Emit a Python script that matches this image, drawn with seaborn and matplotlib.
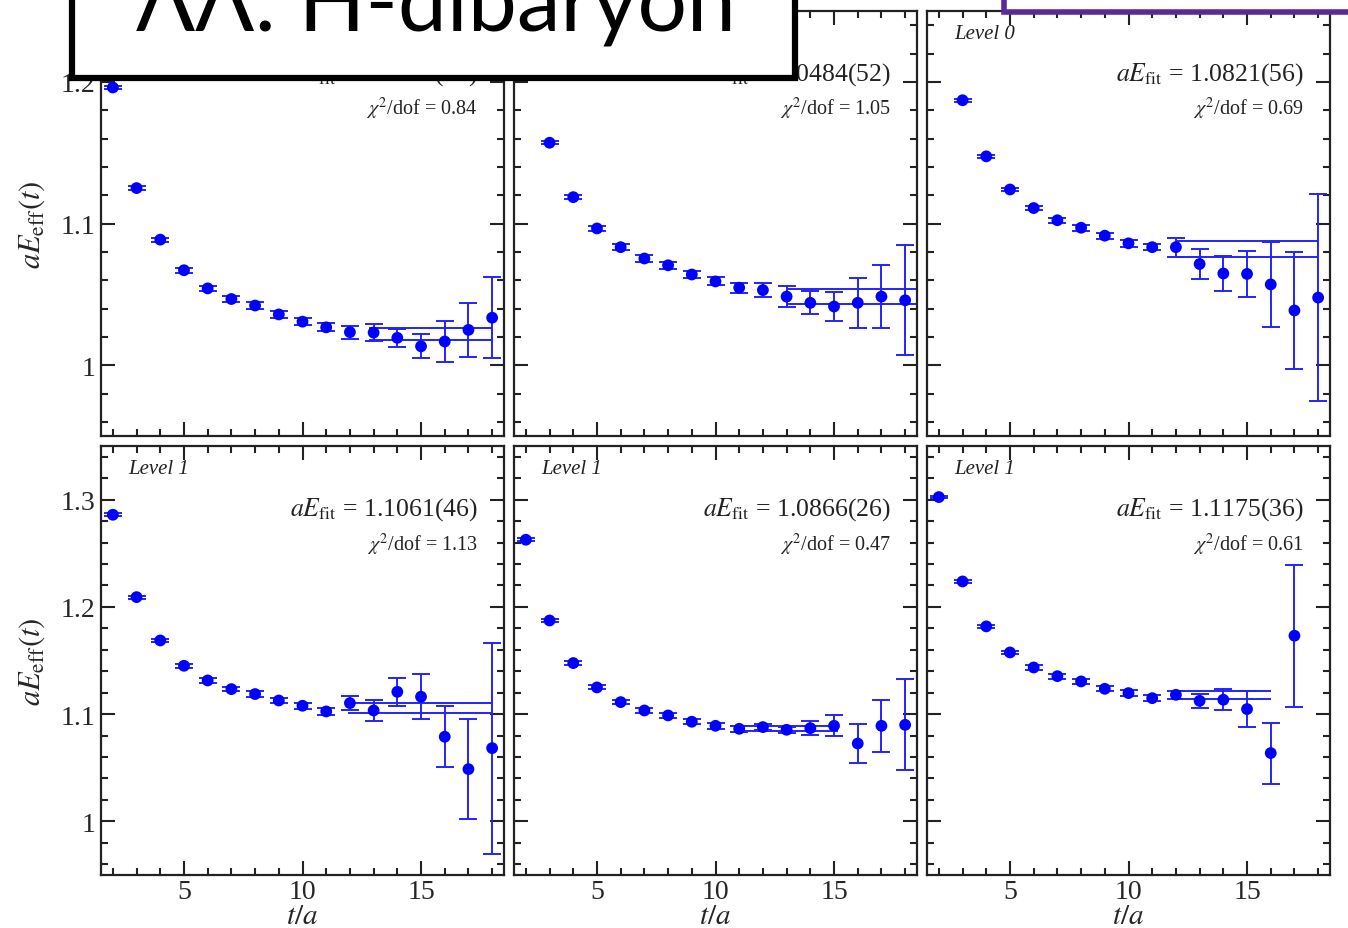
import numpy as np
import pandas as pd
import matplotlib
matplotlib.use("Agg")
import matplotlib.pyplot as plt
import seaborn as sns
from matplotlib.patches import Rectangle
from matplotlib.ticker import MultipleLocator, FuncFormatter

# ---------------- effective-mass data ----------------
# Level 0, panel A
t_0a = [2, 3, 4, 5, 6, 7, 8, 9, 10, 11, 12, 13, 14, 15, 16, 17, 18]
E_0a = [1.196, 1.125, 1.0886, 1.067, 1.0542, 1.0467, 1.0421, 1.0358, 1.0307,
        1.0267, 1.0233, 1.023, 1.0193, 1.0133, 1.0167, 1.0249, 1.0335]
err_0a = [0.001, 0.0012, 0.0014, 0.0016, 0.0019, 0.0021, 0.0023, 0.0023, 0.0026,
          0.0028, 0.0047, 0.0058, 0.0064, 0.0085, 0.0144, 0.0193, 0.0286]

# Level 0, panel B
t_0b = [3, 4, 5, 6, 7, 8, 9, 10, 11, 12, 13, 14, 15, 16, 17, 18]
E_0b = [1.157, 1.1186, 1.0965, 1.0833, 1.0753, 1.0705, 1.064, 1.0591, 1.0547,
        1.053, 1.0484, 1.044, 1.0414, 1.044, 1.0484, 1.0458]
err_0b = [0.0012, 0.0014, 0.0016, 0.0019, 0.0023, 0.0023, 0.0023, 0.0028, 0.0035,
          0.0048, 0.0072, 0.0081, 0.0102, 0.0178, 0.0224, 0.0387]

# Level 0, panel C
t_0c = [3, 4, 5, 6, 7, 8, 9, 10, 11, 12, 13, 14, 15, 16, 17, 18]
E_0c = [1.187, 1.1474, 1.124, 1.1109, 1.1023, 1.097, 1.0914, 1.086, 1.0833,
        1.0833, 1.0714, 1.0647, 1.0644, 1.057, 1.0386, 1.0477]
err_0c = [0.001, 0.0012, 0.0014, 0.0016, 0.0019, 0.0021, 0.0021, 0.0023, 0.0023,
          0.0067, 0.0109, 0.0126, 0.0165, 0.0298, 0.0413, 0.073]

# Level 1, panel A
t_1a = [2, 3, 4, 5, 6, 7, 8, 9, 10, 11, 12, 13, 14, 15, 16, 17, 18]
E_1a = [1.2859, 1.2091, 1.1687, 1.1451, 1.1314, 1.1233, 1.1187, 1.1127, 1.1078,
        1.1025, 1.1103, 1.1034, 1.1208, 1.1162, 1.0789, 1.0487, 1.0683]
err_1a = [0.0013, 0.0013, 0.0016, 0.0019, 0.0022, 0.0022, 0.0025, 0.0025, 0.0028,
          0.003, 0.0067, 0.0101, 0.0129, 0.021, 0.0284, 0.0466, 0.0984]

# Level 1, panel B
t_1b = [2, 3, 4, 5, 6, 7, 8, 9, 10, 11, 12, 13, 14, 15, 16, 17, 18]
E_1b = [1.2626, 1.1873, 1.1476, 1.1249, 1.1112, 1.1034, 1.0988, 1.0929, 1.0891,
        1.0863, 1.0879, 1.0854, 1.0869, 1.0891, 1.0726, 1.0891, 1.09]
err_1b = [0.0013, 0.0013, 0.0016, 0.0018, 0.002, 0.0022, 0.0025, 0.0025, 0.0028,
          0.003, 0.003, 0.003, 0.0065, 0.0098, 0.0183, 0.0244, 0.0423]

# Level 1, panel C
t_1c = [2, 3, 4, 5, 6, 7, 8, 9, 10, 11, 12, 13, 14, 15, 16, 17]
E_1c = [1.3024, 1.2237, 1.1818, 1.1575, 1.1435, 1.1354, 1.1305, 1.1236, 1.1196,
        1.1149, 1.118, 1.1124, 1.1134, 1.1047, 1.0637, 1.1731]
err_1c = [0.0013, 0.0013, 0.0016, 0.0018, 0.002, 0.0022, 0.0025, 0.0025, 0.0028,
          0.003, 0.004, 0.0067, 0.01, 0.0171, 0.0284, 0.0664]

# plateau fits: value, error, fit window, chi^2/dof
fit_val = [1.0222, 1.0484, 1.0821, 1.1061, 1.0866, 1.1175]
fit_err = [0.0043, 0.0052, 0.0056, 0.0046, 0.0026, 0.0036]
fit_lo = [12.8, 13.0, 12.0, 11.9, 10.8, 11.85]
fit_hi = [18.0, 19.0, 18.0, 18.0, 15.15, 16.0]
fit_labels = ["1.0222(43)", "1.0484(52)", "1.0821(56)", "1.1061(46)", "1.0866(26)", "1.1175(36)"]
chi2_labels = ["0.84", "1.05", "0.69", "1.13", "0.47", "0.61"]
level_labels = ["Level 0", "Level 0", "Level 0", "Level 1", "Level 1", "Level 1"]

series = [(t_0a, E_0a, err_0a), (t_0b, E_0b, err_0b), (t_0c, E_0c, err_0c),
          (t_1a, E_1a, err_1a), (t_1b, E_1b, err_1b), (t_1c, E_1c, err_1c)]

title_text = "ΛΛ: H-dibaryon"

# ---------------- style ----------------
sns.set_theme(style="ticks")
plt.rcParams["font.family"] = ["Liberation Serif", "DejaVu Serif"]
plt.rcParams["mathtext.fontset"] = "stix"
plt.rcParams["axes.linewidth"] = 1.5

W, H = 1348, 929
fig = plt.figure(figsize=(W / 100, H / 100), dpi=100)
fig.patch.set_facecolor("white")

pt_blue = "#0000ff"
bar_blue = "#2222ff"

col_x = [101, 514, 927]
col_w = 403
row_y = [(12, 437), (447, 876)]


def fig_rect(x0, y0, x1, y1):
    return [x0 / W, 1 - y1 / H, (x1 - x0) / W, (y1 - y0) / H]


tick_fmt = FuncFormatter(lambda v, p: f"{round(v, 3):g}")

for i, (t, E, err) in enumerate(series):
    r, c = divmod(i, 3)
    y0, y1 = row_y[r]
    ax = fig.add_axes(fig_rect(col_x[c], y0, col_x[c] + col_w, y1))
    ax.set_facecolor("white")
    df = pd.DataFrame({"t": t, "E": E, "err": err})

    ax.errorbar(df["t"], df["E"], yerr=df["err"], fmt="none", ecolor=bar_blue,
                elinewidth=1.4, capsize=6.5, capthick=1.4, zorder=2)
    sns.scatterplot(data=df, x="t", y="E", ax=ax, color=pt_blue, s=72,
                    edgecolor="none", linewidth=0, zorder=3, legend=False)
    lo, hi = fit_val[i] - fit_err[i], fit_val[i] + fit_err[i]
    ax.hlines([lo, hi], fit_lo[i], fit_hi[i], colors=bar_blue, lw=1.4, zorder=2)

    ax.set_xlim(1.5, 18.5)
    ax.set_ylim((0.95, 1.25) if r == 0 else (0.95, 1.35))
    ax.xaxis.set_major_locator(MultipleLocator(5))
    ax.xaxis.set_minor_locator(MultipleLocator(1))
    ax.yaxis.set_major_locator(MultipleLocator(0.1))
    ax.yaxis.set_minor_locator(MultipleLocator(0.02))
    ax.yaxis.set_major_formatter(tick_fmt)
    ax.tick_params(which="both", direction="in", top=True, right=True,
                   width=1.5, color="#222222", labelsize=20)
    ax.tick_params(which="major", length=10)
    ax.tick_params(which="minor", length=5)
    ax.tick_params(axis="x", pad=3)
    ax.tick_params(axis="y", pad=4)
    for sp in ax.spines.values():
        sp.set_color("#222222")
        sp.set_linewidth(1.6)

    ax.set_xlabel("")
    ax.set_ylabel("")
    if r == 1:
        ax.set_xlabel(r"$t/a$", fontsize=21, labelpad=0, va="top")
        ax.xaxis.set_label_coords(0.5, -0.066)
    else:
        ax.tick_params(axis="x", labelbottom=False)
    if c == 0:
        ax.set_ylabel(r"$aE_{\rm eff}(t)$", fontsize=22)
        ax.yaxis.set_label_coords(-0.135, 0.5)
    else:
        ax.tick_params(axis="y", labelleft=False)

    ax.text(0.068, 0.948, level_labels[i], transform=ax.transAxes, fontsize=15,
            style="italic", ha="left", va="center", color="#222222")
    ax.text(0.935, 0.853, r"$aE_{\rm fit}$ = " + fit_labels[i], transform=ax.transAxes,
            fontsize=18.5, ha="right", va="center", color="#222222")
    ax.text(0.935, 0.772, r"$\chi^2$/dof = " + chi2_labels[i], transform=ax.transAxes,
            fontsize=14.5, ha="right", va="center", color="#222222")

# ---------------- title banner ----------------
fig.add_artist(Rectangle((72 / W, 1 - 79 / H), (795 - 72) / W, 0.2,
                         transform=fig.transFigure, facecolor="white",
                         edgecolor="black", linewidth=4.5, zorder=5, clip_on=False))
fig.text(436 / W, 1 - 30 / H, title_text, fontsize=63,
         family=["Lato", "Open Sans", "DejaVu Sans"], ha="center", va="baseline",
         color="black", zorder=6)

fig.add_artist(Rectangle((1004 / W, 1 - 13 / H), 0.5, 0.2,
                         transform=fig.transFigure, facecolor="white",
                         edgecolor="#5a2a98", linewidth=4, zorder=5, clip_on=False))

fig.savefig("out.png", dpi=100, facecolor="white")
